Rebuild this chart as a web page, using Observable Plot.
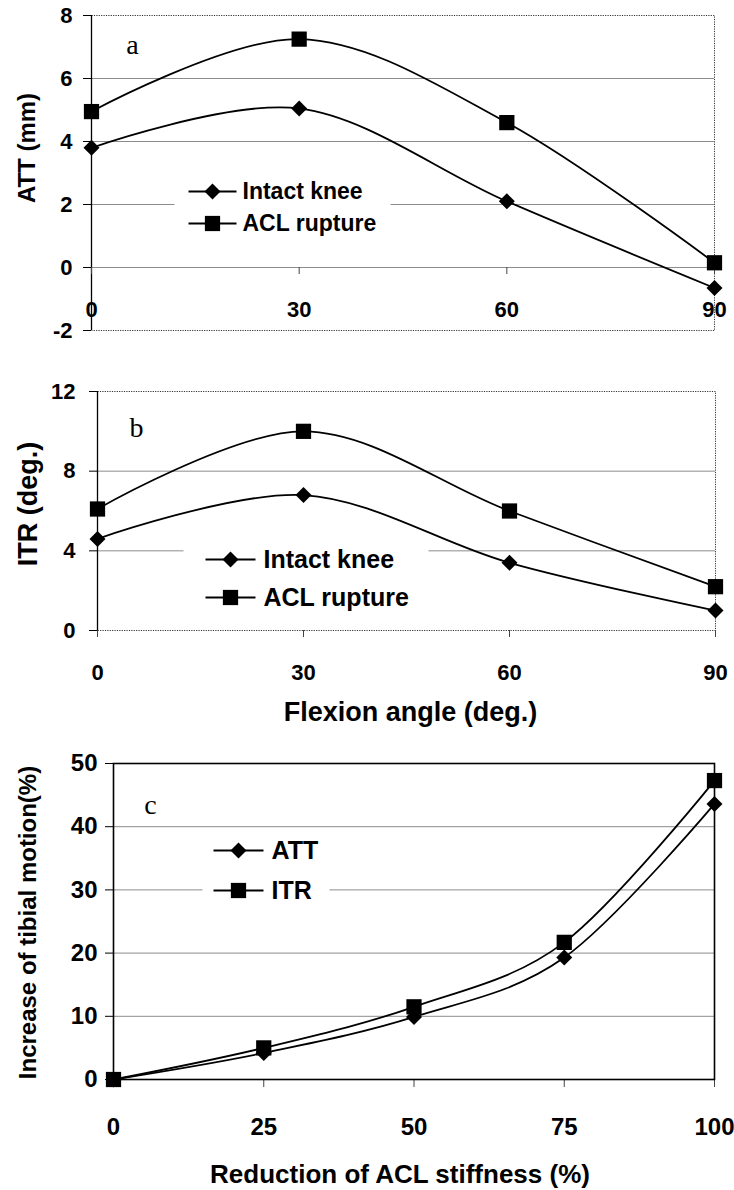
<!DOCTYPE html>
<html>
<head>
<meta charset="utf-8">
<script src="https://cdn.jsdelivr.net/npm/d3@7"></script>
<script src="https://cdn.jsdelivr.net/npm/@observablehq/plot@0.6"></script>
<style>
  html, body { margin: 0; padding: 0; background: #fff; }
  #fig { position: relative; width: 734px; height: 1190px; overflow: hidden; background: #fff; }
  #fig > svg { position: absolute; left: 0; }
</style>
</head>
<body>
<div id="fig"></div>
<script>
// ---- data ----------------------------------------------------------------
// Flexion angle (deg.)
const flexionAngles = [0, 30, 60, 90];
// (a) anterior tibial translation, mm
const attIntact  = [3.8, 5.05, 2.1, -0.65];
const attRupture = [4.95, 7.25, 4.6, 0.15];
// (b) internal tibial rotation, deg.
const itrIntact  = [4.6, 6.8, 3.4, 1.0];
const itrRupture = [6.1, 10.0, 6.0, 2.2];
// (c) increase of tibial motion (%) against reduction of ACL stiffness (%)
const stiffnessReduction = [0, 25, 50, 75, 100];
const increaseATT = [0, 4.2, 9.9, 19.3, 43.6];
const increaseITR = [0, 5.0, 11.5, 21.7, 47.3];

const kneeSeries   = ["Intact knee", "ACL rupture"];
const motionSeries = ["ATT", "ITR"];

const ticksATT  = [-2, 0, 2, 4, 6, 8];
const ticksITR  = [0, 4, 8, 12];
const ticksIncr = [0, 10, 20, 30, 40, 50];
const ticksFlex = [0, 30, 60, 90];
const ticksStiff = [0, 25, 50, 75, 100];

// ---- helpers -------------------------------------------------------------
const SANS  = "'Liberation Sans', Arial, Helvetica, sans-serif";
const SERIF = "'Liberation Serif', 'Times New Roman', Times, serif";

const rows = (xs, ys, series) => xs.map((x, i) => ({x, y: ys[i], series}));

// legend sample: a short horizontal stroke centred on the marker
const segment = (half) => ({draw(ctx) { ctx.moveTo(-half, 0); ctx.lineTo(half, 0); }});

const DIAMOND = {symbol: "diamond2", r: 7.2, fill: "black"};
const SQUARE  = {symbol: "square", r: 8.6, fill: "black"};
const MARKERS = [DIAMOND, SQUARE];

function seriesMarks(data, names, marker) {
  return [
    Plot.line(data, {x: "x", y: "y", z: "series", curve: "cardinal", stroke: "black", strokeWidth: 1.8}),
    ...names.map((name, k) =>
      Plot.dot(data.filter((d) => d.series === name), {x: "x", y: "y", ...marker[k]}))
  ];
}

function legendMarks(names, marker, {dx, dy, gap, textDx, half, fontSize}) {
  return names.flatMap((name, k) => [
    Plot.dot([name], {frameAnchor: "top-left", dx, dy: dy + k * gap, symbol: segment(half), r: 1,
      stroke: "black", strokeWidth: 1.8, fill: "none"}),
    Plot.dot([name], {frameAnchor: "top-left", dx, dy: dy + k * gap, ...marker[k]}),
    Plot.text([name], {frameAnchor: "top-left", dx: dx + textDx, dy: dy + k * gap, text: (d) => d,
      textAnchor: "start", lineAnchor: "middle", fontSize, fontWeight: "bold", fill: "black"})
  ]);
}

// rotated axis title, centred at an offset from the middle of the frame's left edge
const yTitle = (label, dx, dy, fontSize) =>
  Plot.text([label], {frameAnchor: "left", dx, dy, rotate: -90, text: (d) => d,
    textAnchor: "middle", lineAnchor: "middle", fontSize, fontWeight: "bold"});

const panelLetter = (letter, dx, dy) =>
  Plot.text([letter], {frameAnchor: "top-left", dx, dy, text: (d) => d,
    textAnchor: "middle", lineAnchor: "middle", fontFamily: SERIF, fontSize: 28});

function draw(top, options) {
  const svg = Plot.plot({width: 734,
    style: {fontFamily: SANS, color: "black", background: "transparent", overflow: "visible"}, ...options});
  svg.style.top = `${top}px`;
  document.getElementById("fig").appendChild(svg);
}

// ---- (a) ATT vs flexion angle --------------------------------------------
draw(0, {
  height: 340, marginTop: 15, marginBottom: 10, marginLeft: 91, marginRight: 20,
  x: {domain: [0, 90], axis: null},
  y: {domain: [-2, 8], axis: null},
  marks: [
    Plot.ruleY(ticksATT.slice(1, -1), {stroke: "#8c8c8c", strokeWidth: 1}),
    Plot.frame({fill: "white", insetLeft: 83, insetRight: 324, insetTop: 157, insetBottom: 90}),
    Plot.frame({stroke: "#333", strokeDasharray: "1.2,1.2", strokeWidth: 1}),
    Plot.ruleX([0], {stroke: "black", strokeWidth: 1.3}),
    Plot.ruleX(ticksFlex, {x: (d) => d, y1: () => 0, y2: () => 0, insetTop: 7, stroke: "#444"}),
    Plot.axisY(ticksATT, {anchor: "left", tickSize: 8, tickPadding: 11, tickFormat: (d) => `${d}`,
      fontSize: 22, fontWeight: "bold", label: null}),
    Plot.text(ticksFlex, {x: (d) => d, frameAnchor: "bottom", dy: -21, text: (d) => `${d}`,
      lineAnchor: "middle", fontSize: 22, fontWeight: "bold"}),
    ...seriesMarks([...rows(flexionAngles, attIntact, kneeSeries[0]),
                    ...rows(flexionAngles, attRupture, kneeSeries[1])], kneeSeries, MARKERS),
    ...legendMarks(kneeSeries, MARKERS, {dx: 121, dy: 176, gap: 32, textDx: 30, half: 24, fontSize: 23}),
    yTitle("ATT (mm)", -64, -25, 24),
    panelLetter("a", 41, 30)
  ]
});

// ---- (b) ITR vs flexion angle --------------------------------------------
draw(340, {
  height: 400, marginTop: 51, marginBottom: 110, marginLeft: 97, marginRight: 19,
  x: {domain: [0, 90], axis: null},
  y: {domain: [0, 12], axis: null},
  marks: [
    Plot.ruleY(ticksITR.slice(1, -1), {stroke: "#8c8c8c", strokeWidth: 1}),
    Plot.frame({fill: "white", insetLeft: 86, insetRight: 287, insetTop: 144, insetBottom: 10}),
    Plot.frame({stroke: "#333", strokeDasharray: "1.2,1.2", strokeWidth: 1}),
    Plot.ruleX([0], {stroke: "black", strokeWidth: 1.3}),
    Plot.ruleX(ticksFlex, {x: (d) => d, y1: () => 0, y2: () => 0, insetTop: 7, stroke: "#444"}),
    Plot.axisY(ticksITR, {anchor: "left", tickSize: 8, tickPadding: 14, tickFormat: (d) => `${d}`,
      fontSize: 22, fontWeight: "bold", label: null}),
    Plot.text(ticksFlex, {x: (d) => d, frameAnchor: "bottom", dy: 42, text: (d) => `${d}`,
      lineAnchor: "middle", fontSize: 22, fontWeight: "bold"}),
    ...seriesMarks([...rows(flexionAngles, itrIntact, kneeSeries[0]),
                    ...rows(flexionAngles, itrRupture, kneeSeries[1])], kneeSeries, MARKERS),
    ...legendMarks(kneeSeries, MARKERS, {dx: 133, dy: 168, gap: 38, textDx: 33, half: 25, fontSize: 25}),
    yTitle("ITR (deg.)", -69, -7, 27),
    Plot.text(["Flexion angle (deg.)"], {frameAnchor: "bottom", dx: 4, dy: 82, text: (d) => d,
      lineAnchor: "middle", fontSize: 27, fontWeight: "bold"}),
    panelLetter("b", 39, 37)
  ]
});

// ---- (c) increase of tibial motion vs reduction of ACL stiffness ---------
draw(740, {
  height: 450, marginTop: 23, marginBottom: 111, marginLeft: 113, marginRight: 20,
  x: {domain: [0, 100], axis: null},
  y: {domain: [0, 50], axis: null},
  marks: [
    Plot.ruleY(ticksIncr.slice(1, -1), {stroke: "#8c8c8c", strokeWidth: 1}),
    Plot.frame({fill: "white", insetLeft: 89, insetRight: 385, insetTop: 107, insetBottom: 169}),
    Plot.ruleX(ticksStiff, {x: (d) => d, y1: () => 0, y2: () => 0, insetTop: 8, stroke: "#444"}),
    Plot.frame({stroke: "black", strokeWidth: 1.6}),
    Plot.axisY(ticksIncr, {anchor: "left", tickSize: 8, tickPadding: 8, tickFormat: (d) => `${d}`,
      fontSize: 24, fontWeight: "bold", label: null}),
    Plot.text(ticksStiff, {x: (d) => d, frameAnchor: "bottom", dy: 48, text: (d) => `${d}`,
      lineAnchor: "middle", fontSize: 24, fontWeight: "bold"}),
    ...seriesMarks([...rows(stiffnessReduction, increaseATT, motionSeries[0]),
                    ...rows(stiffnessReduction, increaseITR, motionSeries[1])], motionSeries, MARKERS),
    ...legendMarks(motionSeries, MARKERS, {dx: 125, dy: 87, gap: 40, textDx: 33, half: 25, fontSize: 25}),
    yTitle("Increase of tibial motion(%)", -85, 1, 24),
    Plot.text(["Reduction of ACL stiffness (%)"], {frameAnchor: "bottom", dx: -14, dy: 95, text: (d) => d,
      lineAnchor: "middle", fontSize: 26, fontWeight: "bold"}),
    panelLetter("c", 37, 42)
  ]
});
</script>
</body>
</html>
